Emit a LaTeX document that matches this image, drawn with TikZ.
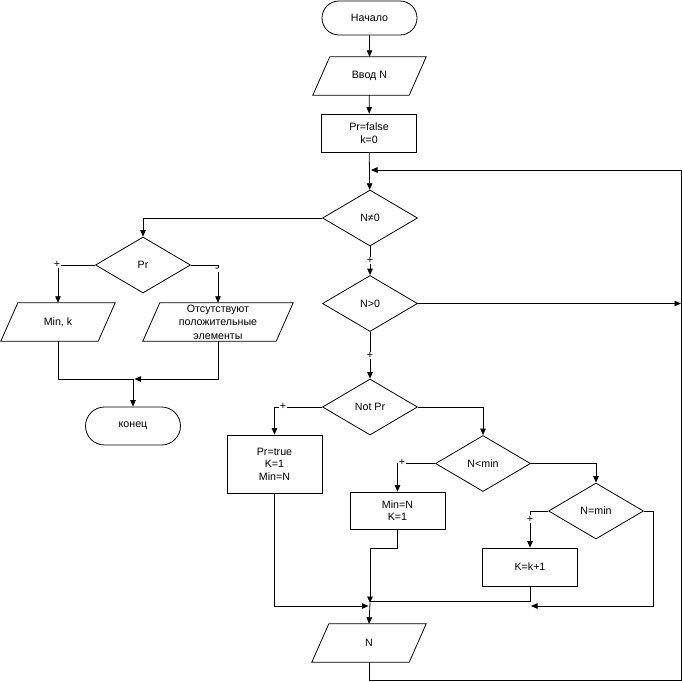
\documentclass[tikz,border=0pt]{standalone}
\usepackage{fontspec}
\setmainfont{Liberation Sans}
\usetikzlibrary{shapes.geometric,shapes.misc,arrows.meta}
\newcommand\flfont{\fontsize{10.67}{12.5}\selectfont}
\tikzset{
  ln/.style={line width=0.8pt, draw=black},
  arr/.style={ln, -{Triangle[length=6.5pt,width=5.5pt]}},
  term/.style={ln, rounded rectangle, minimum width=95pt, minimum height=34pt, inner sep=0pt, font=\flfont},
  procbox/.style={ln, rectangle, minimum width=95pt, minimum height=38pt, inner sep=0pt, align=center, font=\flfont},
  decide/.style={ln, diamond, minimum width=95pt, minimum height=56pt, inner sep=0pt, font=\flfont},
  iobox/.style={rectangle, minimum width=114pt, minimum height=38pt, inner sep=0pt, align=center, font=\flfont,
     append after command={\pgfextra{\draw[ln] (\tikzlastnode.south west) -- ([xshift=-17pt]\tikzlastnode.south east)
        -- (\tikzlastnode.north east) -- ([xshift=17pt]\tikzlastnode.north west) -- cycle;}}},
  lbl/.style={fill=white, inner sep=0.6pt, font=\flfont}
}
\begin{document}
\begin{tikzpicture}[x=1pt,y=-1pt]
\useasboundingbox (0,0) rectangle (682,681);
% nodes
\node[term] (start) at (369.5,18) {Начало};
\node[iobox, minimum width=113pt] (inN) at (369.5,76) {Ввод N};
\node[procbox] (pf) at (369,133) {Pr=false\\k=0};
\node[decide] (ne) at (370,218) {N≠0};
\node[decide] (gt) at (370,303.5) {N>0};
\node[decide] (np) at (370,407) {Not Pr};
\node[decide] (pr) at (143,265) {Pr};
\node[iobox] (mk) at (58,322) {Min, k};
\node[iobox, minimum width=150pt, font=\fontsize{10.67}{13.5}\selectfont] (ab) at (218,322) {Отсутствуют\\положительные\\элементы};
\node[term, minimum height=38pt] (fin) at (133,426) {конец};
\node[procbox, minimum height=58pt] (pt) at (274.5,464) {Pr=true\\K=1\\Min=N};
\node[decide] (nl) at (483,463.5) {N<min};
\node[procbox, minimum height=37pt] (mn) at (397.5,510.5) {Min=N\\K=1};
\node[decide] (nm) at (596,511) {N=min};
\node[procbox] (kk) at (530,567) {K=k+1};
\node[iobox] (outN) at (369,643) {N};
% coordinates
\coordinate (jL) at (371,170);
\coordinate (jR) at (681,170);
\coordinate (bR) at (681,680);
\coordinate (gtEnd) at (681,303.5);
\coordinate (jMid) at (133,379);
\coordinate (jMidR) at (134.5,379);
\coordinate (jM) at (370,603);
\coordinate (jP) at (368.5,606);
\coordinate (jK) at (370,601);
\coordinate (nmEnd) at (531,606);
\coordinate (nmR) at (653,511);
% connectors
\draw[arr] (start) -- (inN);
\draw[arr] (inN) -- (pf);
\draw[arr] (pf) -- (ne);
\draw[arr] (outN.south) |- (bR) -- (jR) -- (jL);
\draw[arr] (gt.east) -- (gtEnd);
\draw[arr] (ne.west) -| (pr.north);
\draw[arr] (ne.south) -- node[lbl] {+} (gt.north);
\draw[arr] (gt.south) -- node[lbl] {+} (np.north);
\draw[arr] (pr.west) -| (mk.north);
\draw[arr] (pr.east) -| (ab.north);
\node[lbl] (plA) at (57,264) {+};
\node[lbl] (miA) at (217,270) {-};
\draw[ln] (mk.south) |- (jMid);
\draw[arr] (ab.south) |- (jMidR);
\draw[arr] (jMid) -- (fin.north);
\draw[arr] (np.west) -| (pt.north);
\node[lbl] (plB) at (283,406) {+};
\draw[arr] (np.east) -| (nl.north);
\draw[arr] (nl.west) -| (mn.north);
\node[lbl] (plC) at (402,462) {+};
\draw[arr] (nl.east) -| (nm.north);
\draw[arr] (nm.west) -| (kk.north);
\node[lbl] (plD) at (530,519) {+};
\draw[arr] (nm.east) -- (nmR) |- (nmEnd);
\draw[ln] (kk.south) |- (jK);
\draw[arr] (mn.south) -- (mn.south |- 0,548) -| (jM);
\draw[arr] (pt.south) |- (jP);
\draw[arr] (jM) -- (outN.north);
\end{tikzpicture}
\end{document}
